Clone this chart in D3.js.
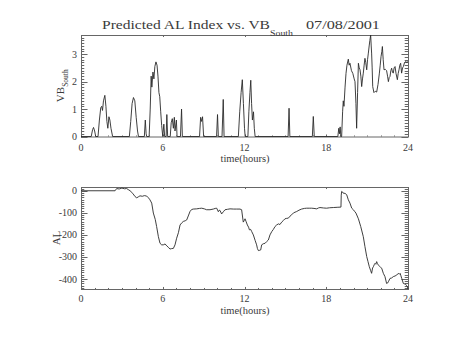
<!DOCTYPE html>
<html>
<head>
<meta charset="utf-8">
<script src="https://cdn.jsdelivr.net/npm/d3@7"></script>
<style>
  html, body { margin: 0; padding: 0; background: #fff; }
  svg { display: block; }
  text { font-family: "Liberation Serif", "DejaVu Serif", serif; fill: #3a3a3a; }
</style>
</head>
<body>
<svg id="chart" width="454" height="341"></svg>
<script>
// Southward IMF component VB_South (hours, value)
const vbSouth = [
  [0,0],[0.75,0],[0.85,0.25],[0.92,0.33],[1.0,0.2],[1.08,0],[1.25,0],[1.35,0.6],[1.45,1.05],
  [1.52,1.1],[1.58,0.95],[1.65,1.3],[1.75,1.5],[1.83,1.1],[1.9,0.55],[1.97,0.3],[2.05,0.72],
  [2.12,0.6],[2.2,0.3],[2.32,0],[3.55,0],[3.65,0.55],[3.75,1.2],[3.85,1.42],[3.95,1.3],
  [4.05,0.7],[4.15,0.2],[4.22,0],[4.65,0],[4.72,0.6],[4.78,0.1],[4.82,0],[5.0,0],[5.08,1.0],
  [5.15,2.2],[5.2,1.8],[5.28,2.35],[5.35,2.1],[5.42,2.55],[5.5,2.72],[5.58,2.6],[5.65,2.2],
  [5.72,1.6],[5.78,1.45],[5.85,0.9],[5.92,0.4],[6.0,0],[6.08,0.45],[6.14,0],[6.25,0],
  [6.3,0.8],[6.36,0],[6.55,0],[6.62,0.5],[6.7,0.65],[6.78,0.3],[6.85,0.7],[6.9,0.2],
  [7.0,0.6],[7.05,0],[7.3,0],[7.38,1.0],[7.44,0],[8.7,0],[8.78,0.7],[8.85,0.55],[8.92,0.72],
  [9.0,0],[9.95,0],[10.02,0.8],[10.08,0],[10.35,0],[10.44,1.35],[10.5,0],[11.55,0],
  [11.65,0.9],[11.75,1.6],[11.84,2.07],[11.92,1.2],[12.0,0.3],[12.05,0],[12.25,0],
  [12.32,0.9],[12.4,1.6],[12.46,2.05],[12.52,1.2],[12.58,0.6],[12.66,0.9],[12.72,0.3],
  [12.78,0],[15.2,0],[15.27,1.03],[15.33,0],[16.98,0],[17.05,0.73],[17.12,0],[18.85,0],
  [18.92,0.3],[18.97,0.1],[19.02,0.35],[19.07,0],[19.13,0],[19.2,0.9],[19.25,1.3],
  [19.3,1.1],[19.38,1.8],[19.45,2.3],[19.52,2.6],[19.62,2.82],[19.68,2.6],[19.74,2.67],
  [19.85,2.4],[19.95,2.3],[20.05,2.1],[20.11,2.0],[20.18,1.2],[20.23,0.3],[20.3,1.6],
  [20.36,2.67],[20.42,2.5],[20.48,2.43],[20.54,2.2],[20.6,1.82],[20.66,2.1],[20.72,2.31],
  [20.78,2.6],[20.84,2.85],[20.9,2.7],[20.97,2.43],[21.03,2.8],[21.09,3.04],[21.15,3.3],
  [21.2,3.5],[21.26,3.7],[21.3,3.3],[21.33,3.04],[21.37,2.5],[21.41,1.82],[21.5,1.6],
  [21.6,1.65],[21.7,1.62],[21.8,1.9],[21.9,2.31],[21.96,2.6],[22.02,2.91],[22.08,3.1],
  [22.12,3.28],[22.18,2.8],[22.24,2.43],[22.33,2.45],[22.43,2.4],[22.5,2.2],[22.56,2.0],
  [22.62,2.15],[22.68,2.19],[22.74,2.4],[22.8,2.49],[22.86,2.35],[22.92,2.31],[22.98,2.5],
  [23.05,2.55],[23.12,2.3],[23.22,2.07],[23.28,2.3],[23.34,2.43],[23.4,2.6],[23.46,2.67],
  [23.53,2.31],[23.6,2.5],[23.66,2.55],[23.75,2.7],[23.83,2.73],[23.92,2.7],[24.0,2.73]
];

// Predicted AL index (hours, nT)
const alIndex = [
  [0,0],[2.5,0],[2.62,10],[2.8,8],[3.0,12],[3.2,9],[3.35,10],[3.5,4],[3.6,0],[3.8,-12],
  [3.96,-26],[4.09,-32],[4.2,-28],[4.33,-23],[4.5,-25],[4.65,-22],[4.82,-24],[4.95,-32],
  [5.06,-41],[5.19,-56],[5.31,-101],[5.45,-130],[5.55,-162],[5.68,-208],[5.8,-238],
  [5.92,-245],[6.04,-245],[6.17,-241],[6.3,-250],[6.41,-256],[6.53,-264],[6.65,-262],
  [6.78,-261],[6.9,-245],[7.02,-215],[7.15,-190],[7.27,-155],[7.4,-145],[7.51,-139],
  [7.65,-136],[7.76,-132],[7.9,-110],[8.0,-94],[8.12,-85],[8.24,-83],[8.49,-82],[8.7,-80],
  [8.86,-79],[9.05,-82],[9.22,-86],[9.47,-86],[9.71,-83],[9.85,-80],[9.96,-79],[10.08,-95],
  [10.15,-88],[10.2,-89],[10.32,-105],[10.45,-95],[10.57,-86],[10.75,-84],[10.94,-82],
  [11.2,-83],[11.42,-83],[11.67,-83],[11.79,-86],[11.91,-142],[11.98,-135],[12.04,-127],
  [12.12,-140],[12.21,-155],[12.3,-165],[12.36,-177],[12.45,-175],[12.53,-185],[12.65,-200],
  [12.78,-225],[12.89,-245],[12.95,-262],[13.02,-271],[13.1,-270],[13.19,-268],[13.26,-245],
  [13.38,-240],[13.51,-238],[13.63,-230],[13.75,-223],[13.87,-200],[14.0,-185],[14.12,-175],
  [14.24,-162],[14.36,-155],[14.49,-150],[14.6,-153],[14.73,-142],[14.85,-135],[14.97,-127],
  [15.1,-125],[15.22,-124],[15.34,-115],[15.46,-109],[15.6,-100],[15.83,-94],[16.0,-88],
  [16.19,-83],[16.4,-80],[16.56,-79],[16.75,-79],[16.93,-79],[17.1,-80],[17.3,-82],
  [17.42,-78],[17.54,-76],[17.8,-78],[18.03,-79],[18.25,-77],[18.52,-76],[18.8,-75],
  [19.08,-74],[19.1,-20],[19.13,-3],[19.2,-6],[19.25,-11],[19.38,-12],[19.5,-18],
  [19.62,-41],[19.74,-56],[19.87,-79],[19.99,-86],[20.1,-95],[20.18,-101],[20.36,-127],
  [20.53,-162],[20.72,-208],[20.84,-253],[20.97,-298],[21.06,-320],[21.16,-344],[21.25,-360],
  [21.33,-374],[21.4,-350],[21.46,-344],[21.52,-335],[21.58,-329],[21.64,-333],[21.7,-321],
  [21.76,-330],[21.82,-336],[21.88,-340],[21.94,-344],[22.0,-348],[22.07,-351],[22.19,-374],
  [22.31,-389],[22.43,-420],[22.5,-418],[22.56,-412],[22.68,-397],[22.8,-395],[22.92,-389],
  [23.05,-386],[23.17,-382],[23.29,-374],[23.36,-378],[23.42,-374],[23.48,-385],[23.54,-397],
  [23.66,-420],[23.75,-422],[23.83,-424],[23.9,-430],[23.96,-435],[24.0,-445]
];

const xTicks = [0, 6, 12, 18, 24];
const vbTicks = [0, 1, 2, 3];
const alTicks = [0, -100, -200, -300, -400];
const titleMain = "Predicted AL Index vs. VB";
const titleSub = "South";
const titleDate = "07/08/2001";
const xLabel = "time(hours)";

const svg = d3.select("#chart");
const axisColor = "#666";

function panel(opts) {
  const { x, y, data, majorY, minorYStep, minorXStep, ylabel, ysub, ylabelX, xLabelY, tickY } = opts;
  const [x0, x1] = x.range();
  const [yb, yt] = y.range();
  const g = svg.append("g");

  // frame
  g.append("rect")
    .attr("x", x0 + 0.5).attr("y", yt + 0.5)
    .attr("width", x1 - x0).attr("height", yb - yt)
    .attr("fill", "none").attr("stroke", axisColor).attr("stroke-width", 1);

  const h = yb - yt, w = x1 - x0;
  const xMaj = 0.02 * h, xMin = xMaj / 2;
  const yMaj = 0.02 * w, yMin = yMaj / 2;

  // x ticks (bottom and top, inward)
  const [dx0, dx1] = x.domain();
  const xMinor = d3.range(dx0, dx1 + 1e-9, minorXStep);
  xMinor.forEach(v => {
    const px = Math.round(x(v)) + 0.5;
    const len = xTicks.includes(Math.round(v * 1000) / 1000) ? xMaj : xMin;
    g.append("line").attr("x1", px).attr("x2", px).attr("y1", yb).attr("y2", yb - len)
      .attr("stroke", axisColor);
    g.append("line").attr("x1", px).attr("x2", px).attr("y1", yt).attr("y2", yt + len)
      .attr("stroke", axisColor);
  });

  // y ticks (left and right, inward)
  const [dy0, dy1] = y.domain();
  const start = Math.ceil(dy0 / minorYStep) * minorYStep;
  const yMinor = d3.range(start, dy1 + 1e-9, minorYStep);
  yMinor.forEach(v => {
    const py = Math.round(y(v)) + 0.5;
    const isMaj = majorY.some(t => Math.abs(t - v) < 1e-6);
    const len = isMaj ? yMaj : yMin;
    g.append("line").attr("x1", x0).attr("x2", x0 + len).attr("y1", py).attr("y2", py)
      .attr("stroke", axisColor);
    g.append("line").attr("x1", x1).attr("x2", x1 - len).attr("y1", py).attr("y2", py)
      .attr("stroke", axisColor);
  });

  // tick labels
  g.selectAll(".xt").data(xTicks).join("text")
    .attr("x", d => x(d)).attr("y", tickY)
    .attr("text-anchor", "middle").attr("font-size", 10)
    .text(d => d);
  g.selectAll(".yt").data(majorY).join("text")
    .attr("x", 77).attr("y", d => y(d) + 3.5)
    .attr("text-anchor", "end").attr("font-size", 10)
    .text(d => d);

  g.append("text").attr("x", (x0 + x1) / 2 + 0.5).attr("y", xLabelY)
    .attr("text-anchor", "middle").attr("font-size", 10.5)
    .text(xLabel);

  const yl = g.append("text")
    .attr("transform", `translate(${ylabelX},${(yb + yt) / 2}) rotate(-90)`)
    .attr("text-anchor", "middle").attr("font-size", 11);
  yl.append("tspan").text(ylabel);
  if (ysub) yl.append("tspan").attr("dy", 4).attr("font-size", 7.5).text(ysub);

  // data trace
  const line = d3.line().x(d => x(d[0])).y(d => y(d[1]));
  g.append("path").datum(data)
    .attr("d", line)
    .attr("fill", "none").attr("stroke", "#2a2a2a").attr("stroke-width", 0.9)
    .attr("stroke-linejoin", "round");
}

const xTop = d3.scaleLinear().domain([0, 24]).range([81, 408]);
const yTop = d3.scaleLinear().domain([0, 3.7]).range([136.5, 35]);
panel({ x: xTop, y: yTop, data: vbSouth, majorY: vbTicks, minorYStep: 0.1, minorXStep: 1,
        ylabel: "VB", ysub: "South", ylabelX: 63.5, xLabelY: 162, tickY: 150.5 });

const xBot = d3.scaleLinear().domain([0, 24]).range([81, 408]);
const yBot = d3.scaleLinear().domain([-445, 17]).range([289, 187]);
panel({ x: xBot, y: yBot, data: alIndex, majorY: alTicks, minorYStep: 10, minorXStep: 1,
        ylabel: "AL", ysub: null, ylabelX: 60, xLabelY: 313.5, tickY: 302 });

// title
const title = svg.append("g");
title.append("text").attr("x", 102).attr("y", 28.5).attr("font-size", 13)
  .attr("textLength", 168).attr("lengthAdjust", "spacingAndGlyphs").text(titleMain);
title.append("text").attr("x", 270).attr("y", 35.5).attr("font-size", 8)
  .attr("textLength", 23).attr("lengthAdjust", "spacingAndGlyphs").text(titleSub);
title.append("text").attr("x", 306).attr("y", 28.5).attr("font-size", 13)
  .attr("textLength", 74).attr("lengthAdjust", "spacingAndGlyphs").text(titleDate);
</script>
</body>
</html>
